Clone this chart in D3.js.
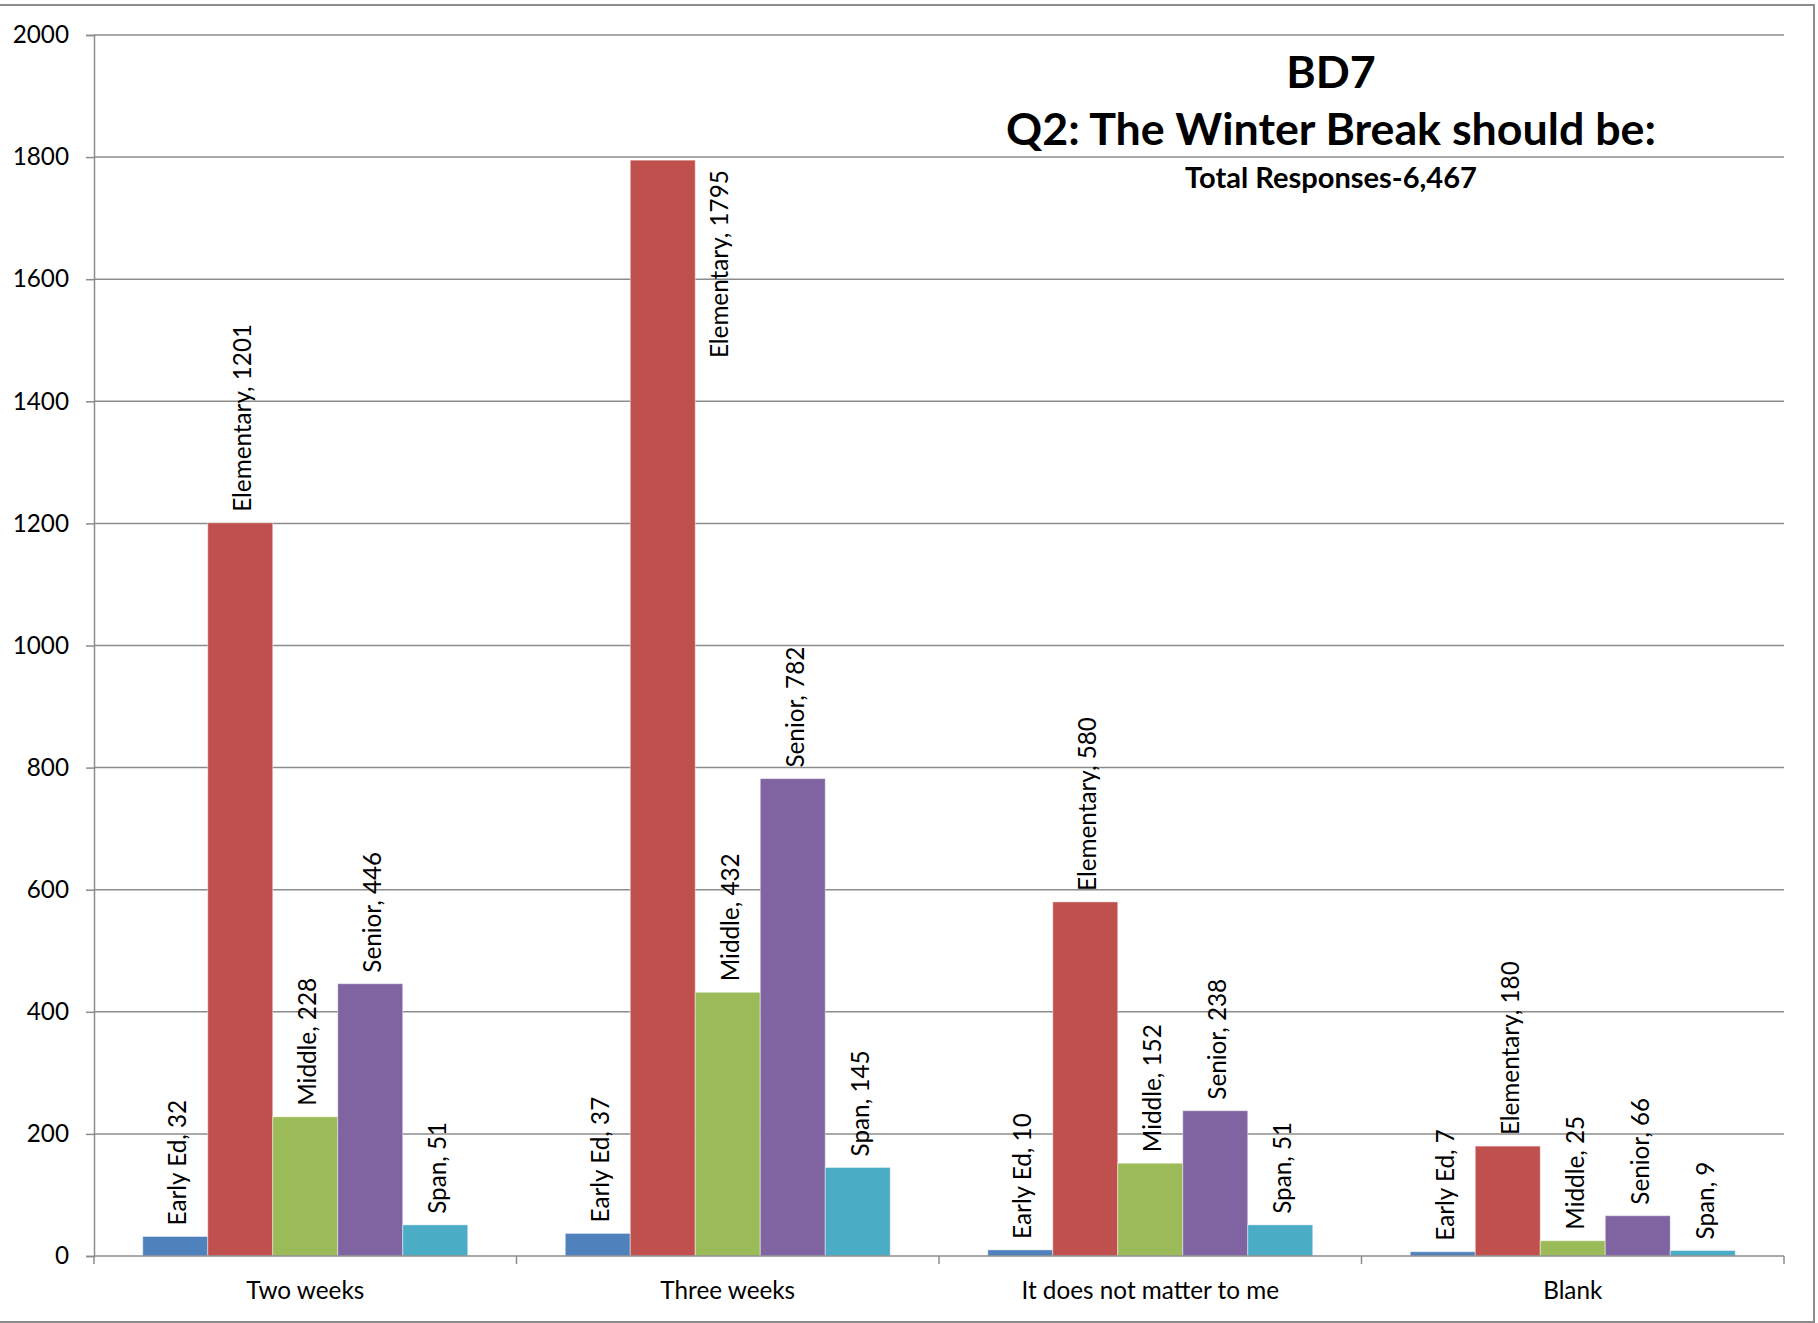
<!DOCTYPE html>
<html>
<head>
<meta charset="utf-8">
<script src="https://cdn.jsdelivr.net/npm/d3@7"></script>
<style>
  html, body { margin: 0; padding: 0; background: #fff; }
  svg { display: block; }
</style>
</head>
<body>
<svg id="chart" width="1818" height="1323"></svg>
<script>
// ---- data ----
const categories = ["Two weeks", "Three weeks", "It does not matter to me", "Blank"];
const seriesNames = ["Early Ed", "Elementary", "Middle", "Senior", "Span"];
const earlyEd    = [32, 37, 10, 7];
const elementary = [1201, 1795, 580, 180];
const middle     = [228, 432, 152, 25];
const senior     = [446, 782, 238, 66];
const span       = [51, 145, 51, 9];
const yTicks = [0, 200, 400, 600, 800, 1000, 1200, 1400, 1600, 1800, 2000];
const titleLines = ["BD7", "Q2: The Winter Break should be:"];
const subtitle = "Total Responses-6,467";

const seriesValues = [earlyEd, elementary, middle, senior, span];
const colors = ["#4F81BD", "#C0504D", "#9BBB59", "#8064A2", "#4BACC6"];

// ---- layout ----
const W = 1818, H = 1323;
const plot = { left: 94, right: 1784, top: 35, bottom: 1256 };
const FONT = "Lato, 'Open Sans', sans-serif";
const svg = d3.select("#chart");

// font fitting so that widths match the reference (Calibri-sized)
function fitSize(str, baseSize, weight, targetW) {
  const t = svg.append("text").attr("font-family", FONT).attr("font-size", baseSize)
    .attr("font-weight", weight).text(str);
  const w = t.node().getComputedTextLength();
  t.remove();
  return baseSize * targetW / w;
}
const fsReg = fitSize("Elementary, 1201", 26, "normal", 188);
const fsTitle = fitSize("Q2: The Winter Break should be:", 48, "bold", 650);
const fsSub = fitSize("Total Responses-6,467", 31, "bold", 292);

// outer border
svg.append("rect").attr("x", -5).attr("y", 5).attr("width", 1819).attr("height", 1317)
  .attr("fill", "#fff").attr("stroke", "#8c8c8c").attr("stroke-width", 2);

const y = d3.scaleLinear().domain([0, 2000]).range([plot.bottom, plot.top]);
const x0 = d3.scaleBand().domain(categories).range([plot.left, plot.right]).padding(0);
const x1 = d3.scaleBand().domain(seriesNames).range([0, x0.bandwidth()])
  .paddingInner(0).paddingOuter(0.75);

// gridlines
svg.append("g").selectAll("line").data(yTicks.filter(d => d > 0)).join("line")
  .attr("x1", plot.left).attr("x2", plot.right)
  .attr("y1", d => y(d)).attr("y2", d => y(d))
  .attr("stroke", "#8c8c8c").attr("stroke-width", 1.5);

// y axis
const yAxis = svg.append("g").attr("transform", `translate(${plot.left},0)`)
  .call(d3.axisLeft(y).tickValues(yTicks).tickSize(8).tickPadding(17).tickFormat(d3.format("d")));
yAxis.select(".domain").attr("stroke", "#8c8c8c").attr("stroke-width", 1.5);
yAxis.selectAll(".tick line").attr("stroke", "#8c8c8c").attr("stroke-width", 1.5);
yAxis.selectAll(".tick text").attr("font-family", FONT).attr("font-size", fsReg).attr("fill", "#000");

// bars
const groups = svg.append("g").selectAll("g").data(categories).join("g")
  .attr("transform", d => `translate(${x0(d)},0)`);

groups.each(function(cat, ci) {
  const g = d3.select(this);
  const rows = seriesNames.map((s, si) => ({ s, si, v: seriesValues[si][ci] }));
  g.selectAll("rect").data(rows).join("rect")
    .attr("x", d => x1(d.s)).attr("width", x1.bandwidth())
    .attr("y", d => y(d.v)).attr("height", d => y(0) - y(d.v))
    .attr("fill", d => colors[d.si])
    .attr("stroke", "rgba(255,255,255,0.45)").attr("stroke-width", 1);
  const labels = g.selectAll("text").data(rows).join("text")
    .attr("font-family", FONT).attr("font-size", fsReg).attr("fill", "#000")
    .text(d => `${d.s}, ${d.v}`);
  labels.each(function(d) {
    const t = d3.select(this);
    const len = this.getComputedTextLength();
    const bw = x1.bandwidth();
    if (y(d.v) - 11 - len < plot.top) {
      // no room above the bar: place label beside the bar, hanging from its top
      t.attr("text-anchor", "end")
        .attr("transform", `translate(${x1(d.s) + bw + 33},${y(d.v) + 10}) rotate(-90)`);
    } else {
      t.attr("text-anchor", "start")
        .attr("transform", `translate(${x1(d.s) + bw / 2 + fsReg * 0.46},${y(d.v) - 11}) rotate(-90)`);
    }
  });
});

// x axis line + boundary ticks
svg.append("line").attr("x1", plot.left).attr("x2", plot.right)
  .attr("y1", plot.bottom).attr("y2", plot.bottom)
  .attr("stroke", "#8c8c8c").attr("stroke-width", 1.5);
const bounds = categories.map(c => x0(c)).concat([x0(categories[categories.length - 1]) + x0.bandwidth()]);
svg.append("g").selectAll("line").data(bounds).join("line")
  .attr("x1", d => d).attr("x2", d => d)
  .attr("y1", plot.bottom).attr("y2", plot.bottom + 8)
  .attr("stroke", "#8c8c8c").attr("stroke-width", 1.5);
const xAxis = svg.append("g").attr("transform", `translate(0,${plot.bottom})`)
  .call(d3.axisBottom(x0).tickSize(0).tickPadding(26));
xAxis.select(".domain").remove();
xAxis.selectAll(".tick text").attr("font-family", FONT).attr("font-size", fsReg).attr("fill", "#000");

// titles
const tx = 1331;
svg.append("text").attr("x", tx).attr("y", 88).attr("text-anchor", "middle")
  .attr("font-family", FONT).attr("font-weight", "bold").attr("font-size", fsTitle).text(titleLines[0]);
svg.append("text").attr("x", tx).attr("y", 145).attr("text-anchor", "middle")
  .attr("font-family", FONT).attr("font-weight", "bold").attr("font-size", fsTitle).text(titleLines[1]);
svg.append("text").attr("x", tx).attr("y", 188).attr("text-anchor", "middle")
  .attr("font-family", FONT).attr("font-weight", "bold").attr("font-size", fsSub).text(subtitle);
</script>
</body>
</html>
